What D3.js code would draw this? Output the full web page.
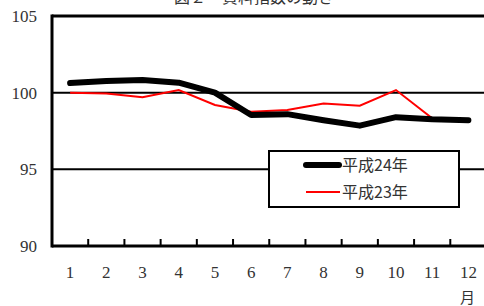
<!DOCTYPE html>
<html><head><meta charset="utf-8">
<script src="https://cdn.jsdelivr.net/npm/d3@7/dist/d3.min.js"></script>
<style>body{margin:0;background:#fff}svg{display:block}</style>
</head><body>
<svg id="c" width="484" height="306"></svg>
<script>
const months = ["1","2","3","4","5","6","7","8","9","10","11","12"];
const yTicks = [90, 95, 100, 105];
const seriesNames = ["平成24年", "平成23年"];
const h24 = [100.63, 100.76, 100.83, 100.65, 100.0, 98.54, 98.6, 98.2, 97.85, 98.4, 98.26, 98.2];
const h23 = [100.0, 99.95, 99.7, 100.17, 99.2, 98.76, 98.87, 99.3, 99.15, 100.17, 98.33, 98.17];

const svg = d3.select("#c");
const L = 52, R = 486.5, T = 16, B = 246;
const x = d3.scaleBand().domain(months).range([L, R]);
const y = d3.scaleLinear().domain([90, 105]).range([B, T]);
const serif = "'Liberation Serif','DejaVu Serif',serif";
const txt = "#333";

// title (cut off at top)
svg.append("text").attr("x", 254).attr("y", 3).attr("text-anchor", "middle")
  .attr("font-family", "'Noto Sans CJK JP',sans-serif").attr("font-size", 16).attr("fill", txt)
  .text("図２　賃料指数の動き");

// gridlines
svg.append("g").selectAll("line").data(yTicks.filter(d => d > 90 && d < 105)).join("line")
  .attr("x1", L).attr("x2", R).attr("y1", d => y(d)).attr("y2", d => y(d))
  .attr("stroke", "#000").attr("stroke-width", 2);

// frame top / left / bottom
svg.append("line").attr("x1", L).attr("x2", R).attr("y1", y(105)).attr("y2", y(105)).attr("stroke", "#000").attr("stroke-width", 3);
svg.append("line").attr("x1", L).attr("x2", L).attr("y1", y(105) - 1.5).attr("y2", y(90) + 1.5).attr("stroke", "#000").attr("stroke-width", 3);
svg.append("line").attr("x1", L).attr("x2", R).attr("y1", y(90)).attr("y2", y(90)).attr("stroke", "#000").attr("stroke-width", 3);

// x ticks between categories (inside)
svg.append("g").selectAll("line").data(months.slice(1)).join("line")
  .attr("x1", d => x(d)).attr("x2", d => x(d)).attr("y1", B).attr("y2", B - 7)
  .attr("stroke", "#000").attr("stroke-width", 2);

// y labels
svg.append("g").selectAll("text").data(yTicks).join("text")
  .attr("x", 37).attr("y", d => y(d) + 6).attr("text-anchor", "end")
  .attr("font-family", serif).attr("font-size", 17).attr("fill", txt).text(d => d);

// x labels
svg.append("g").selectAll("text").data(months).join("text")
  .attr("x", d => x(d) + x.bandwidth() / 2).attr("y", 278).attr("text-anchor", "middle")
  .attr("font-family", serif).attr("font-size", 17).attr("fill", txt).text(d => d);
svg.append("text").attr("x", x("12") + x.bandwidth() / 2 - 1).attr("y", 303).attr("text-anchor", "middle")
  .attr("font-family", "'Noto Sans CJK JP',sans-serif").attr("font-size", 15).attr("fill", txt).text("月");

const line = d3.line().x((d, i) => x(months[i]) + x.bandwidth() / 2).y(d => y(d));
svg.append("path").datum(h23).attr("d", line).attr("fill", "none").attr("stroke", "#ff0000").attr("stroke-width", 2);
svg.append("path").datum(h24).attr("d", line).attr("fill", "none").attr("stroke", "#000").attr("stroke-width", 6)
  .attr("stroke-linejoin", "round").attr("stroke-linecap", "round");

// legend
const lg = svg.append("g");
lg.append("rect").attr("x", 269).attr("y", 151).attr("width", 190).attr("height", 56)
  .attr("fill", "#fff").attr("stroke", "#000").attr("stroke-width", 2);
const ly = [165, 192];
lg.append("line").attr("x1", 306).attr("x2", 339).attr("y1", ly[0]).attr("y2", ly[0]).attr("stroke", "#000").attr("stroke-width", 6).attr("stroke-linecap", "round");
lg.append("line").attr("x1", 306).attr("x2", 340).attr("y1", ly[1]).attr("y2", ly[1]).attr("stroke", "#ff0000").attr("stroke-width", 2);
lg.selectAll("text").data(seriesNames).join("text")
  .attr("x", 342).attr("y", (d, i) => ly[i] + 6)
  .attr("font-family", "'Noto Sans CJK JP',sans-serif").attr("font-size", 16).attr("fill", txt).text(d => d);
</script>
</body></html>
